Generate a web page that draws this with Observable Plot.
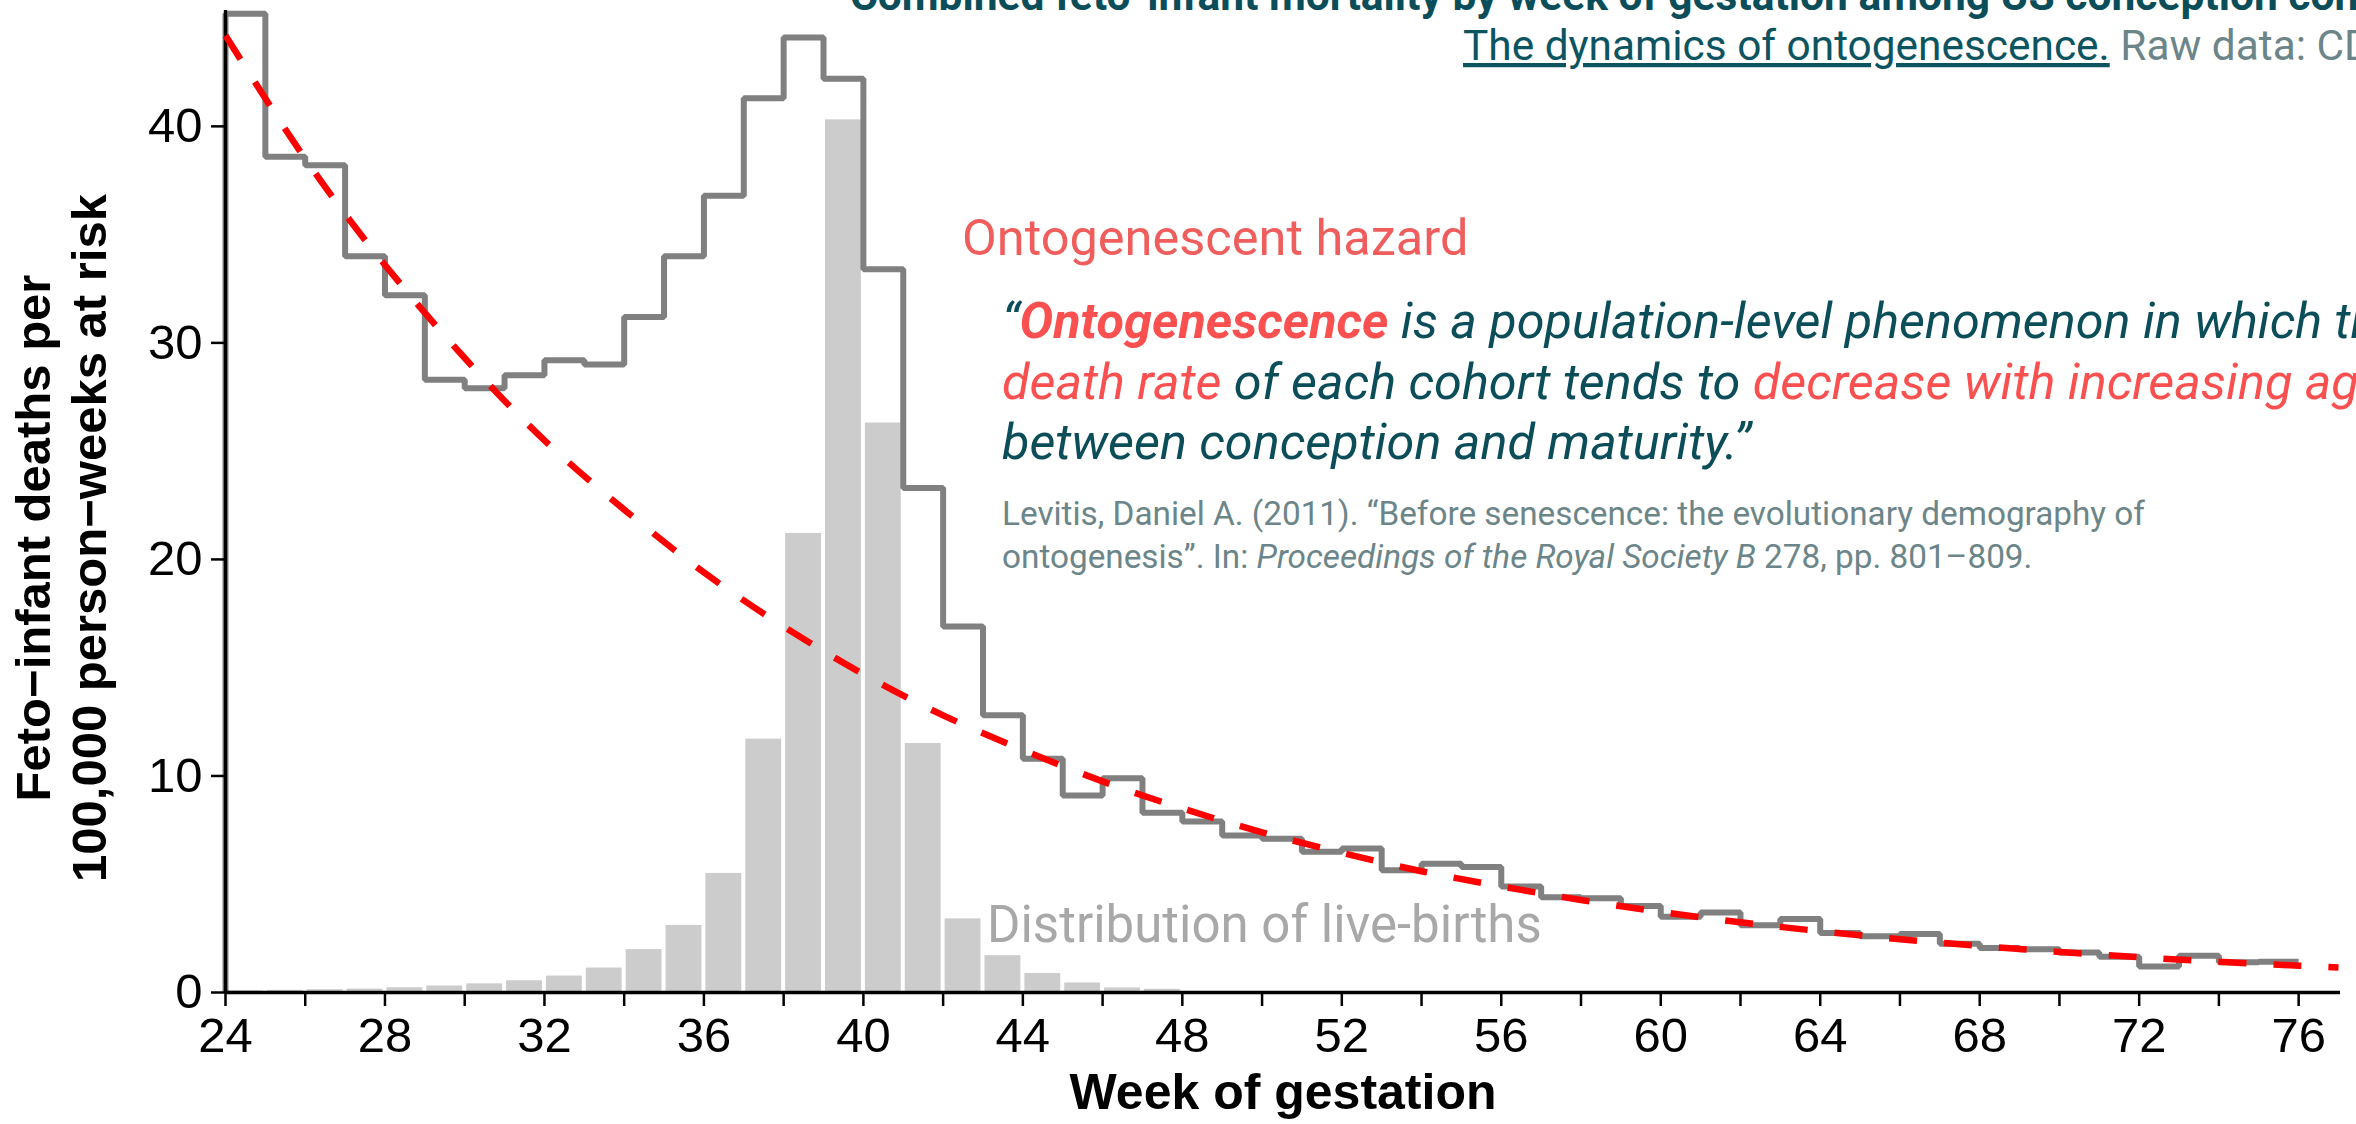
<!DOCTYPE html>
<html>
<head>
<meta charset="utf-8">
<script src="https://cdn.jsdelivr.net/npm/d3@7"></script>
<script src="https://cdn.jsdelivr.net/npm/@observablehq/plot@0.6"></script>
<style>
  html, body { margin: 0; padding: 0; background: #fff; overflow: hidden; }
  #chart { position: relative; width: 2356px; height: 1124px; overflow: hidden; background: #fff; }
</style>
</head>
<body>
<div id="chart"></div>
<script>
// Week of gestation (start of each one-week interval)
const weeks = [24,25,26,27,28,29,30,31,32,33,34,35,36,37,38,39,40,41,42,43,44,45,46,47,48,49,
               50,51,52,53,54,55,56,57,58,59,60,61,62,63,64,65,66,67,68,69,70,71,72,73,74,75];
// Feto-infant deaths per 100,000 person-weeks at risk
const hazard = [45.2,38.6,38.2,34.0,32.2,28.3,27.9,28.5,29.2,29.0,31.2,34.0,36.8,41.3,44.1,42.2,
                33.4,23.3,16.9,12.8,10.8,9.1,9.9,8.3,7.9,7.25,7.1,6.5,6.65,5.65,5.95,5.8,4.9,4.4,
                4.35,4.0,3.5,3.7,3.1,3.4,2.75,2.6,2.7,2.25,2.05,2.0,1.85,1.65,1.2,1.7,1.4,1.42];
// Distribution of live-births (scaled to the same axis)
const birthWeeks = [24,25,26,27,28,29,30,31,32,33,34,35,36,37,38,39,40,41,42,43,44,45,46,47];
const births = [0.08,0.1,0.13,0.16,0.22,0.3,0.4,0.54,0.76,1.13,1.98,3.1,5.5,11.7,21.2,40.3,
                26.3,11.5,3.4,1.7,0.88,0.44,0.21,0.15];
// Ontogenescent hazard (dashed red curve), read every two weeks
const curveWeeks = [24,26,28,30,32,34,36,38,40,42,44,46,48,50,52,54,56,58,60,62,64,66,68,70,72,74,76,77];
const curveValues = [44.2,38.5,33.6,29.3,25.5,22.3,19.4,16.9,14.7,12.8,11.2,9.75,8.5,7.4,6.45,5.6,
                     4.9,4.27,3.72,3.24,2.83,2.46,2.15,1.87,1.63,1.42,1.24,1.15];
// Axis ticks
const xTicks = [24,26,28,30,32,34,36,38,40,42,44,46,48,50,52,54,56,58,60,62,64,66,68,70,72,74,76];
const xTickLabels = ["24","","28","","32","","36","","40","","44","","48","","52","","56","","60","","64","","68","","72","","76"];
const yTicks = [0,10,20,30,40];

const birthData = birthWeeks.map((w, i) => ({week: w, next: w + 1, value: births[i]}));
const stepData = [{week: weeks[0], value: 0}]
  .concat(weeks.map((w, i) => ({week: w, value: hazard[i]})))
  .concat([{week: weeks[weeks.length - 1] + 1, value: hazard[hazard.length - 1]}]);
const curveData = curveWeeks.map((w, i) => ({week: w, value: curveValues[i]}));

const plot = Plot.plot({
  width: 2356,
  height: 1124,
  marginTop: 10,
  marginBottom: 132,
  marginLeft: 225,
  marginRight: 16,
  x: {domain: [24, 77.05], label: null},
  y: {domain: [0, 45.35], label: null},
  style: {fontFamily: "'Liberation Sans', Arial, sans-serif", fontSize: "49px", background: "#fff", color: "#000", overflow: "visible"},
  marks: [
    Plot.rectY(birthData, {x1: "week", x2: "next", y: "value", fill: "#cccccc", insetLeft: 2, insetRight: 2}),
    Plot.lineY(stepData, {x: "week", y: "value", curve: "step-after", stroke: "#808080", strokeWidth: 6,
                          strokeLinejoin: "miter", strokeLinecap: "butt"}),
    Plot.ruleY([0], {stroke: "#000", strokeWidth: 3.3}),
    Plot.ruleX([24], {stroke: "#000", strokeWidth: 3.3}),
    Plot.line(curveData, {x: "week", y: "value", curve: "natural", stroke: "#f00", strokeWidth: 6.5,
                          strokeDasharray: "28,27", strokeLinecap: "butt"}),
    Plot.axisX({ticks: xTicks, tickFormat: d => xTickLabels[xTicks.indexOf(d)], tickSize: 14, tickPadding: 10.5,
                strokeWidth: 2.5, fontSize: 49, label: null}),
    Plot.axisY({ticks: yTicks, tickSize: 14, tickPadding: 9, strokeWidth: 2.5, fontSize: 49, label: null})
  ]
});

document.getElementById("chart").appendChild(plot);
const svg = d3.select(plot);

function addText(x, y, parts, base) {
  const t = svg.append("text").attr("x", x).attr("y", y).attr("text-anchor", "start");
  Object.entries(base).forEach(([k, v]) => t.attr(k, v));
  parts.forEach(p => {
    const s = t.append("tspan").text(p.text);
    if (p.fill) s.attr("fill", p.fill);
    if (p.weight) s.attr("font-weight", p.weight);
    if (p.style) s.attr("font-style", p.style);
    if (p.deco) s.attr("text-decoration", p.deco);
  });
  return t;
}

const TEAL = "#0b4e5a", RED = "#fa5050", GREYTEAL = "#6b8589";
const roboto = "Roboto, 'Noto Sans', sans-serif";

// Title (cropped at the top, as in the original figure) and subtitle
addText(850, 10, [{text: "Combined feto-infant mortality by week of gestation among US conception cohorts"}],
  {"font-family": roboto, "font-size": 42.5, "font-weight": 700, fill: TEAL});
addText(1463, 60, [
  {text: "The dynamics of ontogenescence.", fill: "#0d5461", deco: "underline"},
  {text: " Raw data: CDC", fill: GREYTEAL}
], {"font-family": roboto, "font-size": 42.4});

// Annotations
addText(962, 255, [{text: "Ontogenescent hazard"}], {"font-family": roboto, "font-size": 50.5, fill: "#ef5d5d"});

const qBase = {"font-family": roboto, "font-size": 50.4, "font-style": "italic", fill: TEAL};
addText(1002, 338, [
  {text: "“"},
  {text: "Ontogenescence", fill: RED, weight: 700},
  {text: " is a population-level phenomenon in which the"}
], qBase);
addText(1002, 399, [
  {text: "death rate", fill: RED},
  {text: " of each cohort tends to "},
  {text: "decrease with increasing age", fill: RED}
], qBase);
addText(1002, 459, [{text: "between conception and maturity.”"}], qBase);

const cBase = {"font-family": roboto, "font-size": 33.3, fill: GREYTEAL};
addText(1002, 525, [{text: "Levitis, Daniel A. (2011). “Before senescence: the evolutionary demography of"}], cBase);
addText(1002, 568, [
  {text: "ontogenesis”. In: "},
  {text: "Proceedings of the Royal Society B", style: "italic"},
  {text: " 278, pp. 801–809."}
], cBase);

addText(987, 942, [{text: "Distribution of live-births"}], {"font-family": roboto, "font-size": 51, fill: "#a8a8a8"});

// Axis titles
addText(1283, 1109, [{text: "Week of gestation"}],
  {"font-family": "'Liberation Sans', Arial, sans-serif", "font-size": 50, "font-weight": 700, fill: "#000", "text-anchor": "middle"});
const yt = svg.append("g").attr("transform", "translate(0,538) rotate(-90)");
yt.append("text").attr("x", 0).attr("y", 49.5).attr("text-anchor", "middle")
  .attr("font-family", "'Liberation Sans', Arial, sans-serif").attr("font-size", 49).attr("font-weight", 700)
  .attr("fill", "#000").text("Feto−infant deaths per");
yt.append("text").attr("x", 0).attr("y", 105.5).attr("text-anchor", "middle")
  .attr("font-family", "'Liberation Sans', Arial, sans-serif").attr("font-size", 49).attr("font-weight", 700)
  .attr("fill", "#000").text("100,000 person−weeks at risk");
</script>
</body>
</html>
